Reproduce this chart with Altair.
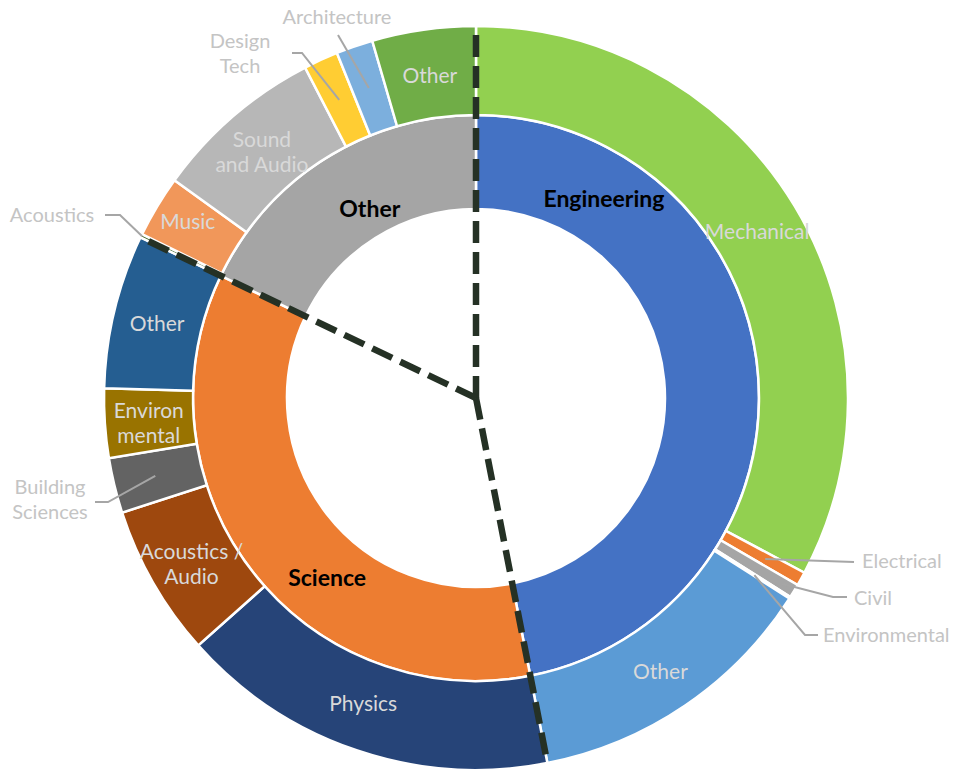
import math
import altair as alt
import pandas as pd

# ---------------- data ----------------
GROUPS = ["Engineering", "Science", "Other"]
GROUP_COLORS = ["#4472C4", "#ED7D31", "#A5A5A5"]

SUB_GROUP = ["Engineering"] * 5 + ["Science"] * 5 + ["Other"] * 6
SUB_NAMES = ["Mechanical", "Electrical", "Civil", "Environmental", "Other",
             "Physics", "Acoustics /\nAudio", "Building\nSciences", "Environ\nmental", "Other",
             "Acoustics", "Music", "Sound\nand Audio", "Design\nTech", "Architecture", "Other"]
SUB_VALUES = [32.8, 0.6, 0.6, 0.08, 12.87,
              16.5, 6.6, 2.4, 3.0, 6.7,
              0.15, 2.7, 7.45, 1.5, 1.6, 4.5]
SUB_COLORS = ["#92D050", "#ED7D31", "#A5A5A5", "#FFC000", "#5B9BD5",
              "#264478", "#9E480E", "#636363", "#997300", "#255E91",
              "#43682B", "#F1975A", "#B7B7B7", "#FFCD33", "#7CAFDD", "#70AD47"]

# ---------------- layout / style ----------------
W, H = 952, 740
R_OUT, R_MID, R_IN = 372, 283, 189
R_DASH = 371
FONT = "Lato"
LINE_H = 25
INNER_LABEL_R = 235
OUTER_LABEL_R = 328
OUTER_LABEL_DROP = 4  # px, labels on the outer ring sit slightly lower
# nudges (px, right/down) for labels that were moved by hand
INNER_NUDGE = {"Engineering": (-106, -175), "Science": (37, 37), "Other": (19, 11)}
OUTER_NUDGE = {11: (-7, -10), 5: (-8, -8)}
# external labels: index -> (text position px rel. centre (right, down), align,
#                            anchor radius, leader points after the anchor)
EXTERNAL = {
    1: ((386, 164), "left", 331, [(378, 164)]),
    2: ((378, 201), "left", 358, [(357, 199), (371, 199)]),
    3: ((347, 238), "left", 330, [(329, 237), (342, 237)]),
    7: ((-426, 102), "center", 330, [(-368, 104), (-381, 104)]),
    10: ((-424, -182), "center", 371, [(-356, -183), (-371, -183)]),
    13: ((-236, -344), "center", 328, [(-174, -345), (-184, -345)]),
    14: ((-139, -380), "center", 328, [(-138, -363)]),
}


def polar(deg, r):
    a = math.radians(deg)
    return r * math.sin(a), r * math.cos(a)


def block_shift(label):
    # vertical shift (y-up) so a multi-line label is centred on its anchor
    return (label.count("\n")) * LINE_H / 2


total = sum(SUB_VALUES)
rows, acc = [], 0.0
for i, (g, n, v, c) in enumerate(zip(SUB_GROUP, SUB_NAMES, SUB_VALUES, SUB_COLORS)):
    s = acc / total * 360
    acc += v
    e = acc / total * 360
    rows.append(dict(idx=i, group=g, name=n, value=v, color=c, start=s, end=e, mid=(s + e) / 2))
outer = pd.DataFrame(rows)

grows, acc = [], 0.0
for g, c in zip(GROUPS, GROUP_COLORS):
    v = sum(val for gg, val in zip(SUB_GROUP, SUB_VALUES) if gg == g)
    s = acc / total * 360
    acc += v
    e = acc / total * 360
    grows.append(dict(group=g, value=v, color=c, start=s, end=e, mid=(s + e) / 2))
inner = pd.DataFrame(grows)

theta_scale = alt.Scale(domain=[0, 360], range=[0, 2 * math.pi])
xs = alt.Scale(domain=[-W / 2, W / 2], nice=False, zero=False)
ys = alt.Scale(domain=[-H / 2, H / 2], nice=False, zero=False)
X = lambda f="x": alt.X(f"{f}:Q", scale=xs, axis=None)
Y = lambda f="y": alt.Y(f"{f}:Q", scale=ys, axis=None)

inner_arc = alt.Chart(inner).mark_arc(
    radius=R_MID, radius2=R_IN, stroke="white", strokeWidth=2.5
).encode(
    theta=alt.Theta("start:Q", stack=False, scale=theta_scale),
    theta2="end:Q",
    color=alt.Color("color:N", scale=None),
)
outer_arc = alt.Chart(outer).mark_arc(
    radius=R_OUT, radius2=R_MID, stroke="white", strokeWidth=2.5
).encode(
    theta=alt.Theta("start:Q", stack=False, scale=theta_scale),
    theta2="end:Q",
    color=alt.Color("color:N", scale=None),
)

# dashed separators at group boundaries
dash_rows = []
for s in inner["start"]:
    x2, y2 = polar(s, R_DASH)
    dash_rows.append(dict(x=0.0, y=0.0, x2=x2, y2=y2))
dashes = alt.Chart(pd.DataFrame(dash_rows)).mark_rule(
    color="#253125", strokeWidth=6.5, strokeDash=[22, 9], strokeCap="butt"
).encode(x=X(), y=Y(), x2="x2:Q", y2="y2:Q")

# inner labels
il = []
for _, r in inner.iterrows():
    x, y = polar(r["mid"], INNER_LABEL_R)
    dx, dy = INNER_NUDGE.get(r["group"], (0, 0))
    il.append(dict(x=x + dx, y=y - dy, label=r["group"]))
inner_text = alt.Chart(pd.DataFrame(il)).mark_text(
    font=FONT, fontSize=23, fontWeight="bold", color="#000000"
).encode(x=X(), y=Y(), text="label:N")

# outer labels
ol, ext_left, ext_center, leaders = [], [], [], []
for _, r in outer.iterrows():
    i = int(r["idx"])
    name = r["name"]
    if i in EXTERNAL:
        (tx, ty), align, ar, pts = EXTERNAL[i]
        row = dict(x=tx, y=-ty + block_shift(name), label=name)
        (ext_left if align == "left" else ext_center).append(row)
        ax, ay = polar(r["mid"], ar)
        path = [(ax, ay)] + [(px, -py) for px, py in pts]
        for k, (px, py) in enumerate(path):
            leaders.append(dict(key=i, k=k, x=px, y=py))
    else:
        x, y = polar(r["mid"], OUTER_LABEL_R)
        dx, dy = OUTER_NUDGE.get(i, (0, 0))
        ol.append(dict(x=x + dx, y=y - dy - OUTER_LABEL_DROP + block_shift(name), label=name))

outer_text = alt.Chart(pd.DataFrame(ol)).mark_text(
    font=FONT, fontSize=21, color="#D9D9D9", lineBreak="\n", lineHeight=LINE_H
).encode(x=X(), y=Y(), text="label:N")

lead = alt.Chart(pd.DataFrame(leaders)).mark_line(
    color="#A6A6A6", strokeWidth=2
).encode(x=X(), y=Y(), detail="key:N", order="k:Q")

ext_l = alt.Chart(pd.DataFrame(ext_left)).mark_text(
    font=FONT, fontSize=20, color="#C4C4C4", align="left", lineBreak="\n", lineHeight=LINE_H
).encode(x=X(), y=Y(), text="label:N")
ext_c = alt.Chart(pd.DataFrame(ext_center)).mark_text(
    font=FONT, fontSize=20, color="#C4C4C4", align="center", lineBreak="\n", lineHeight=LINE_H
).encode(x=X(), y=Y(), text="label:N")

chart = alt.layer(
    inner_arc, outer_arc, lead, dashes, inner_text, outer_text, ext_l, ext_c
).properties(
    width=W, height=H,
    padding={"left": 0, "top": 28, "right": 6, "bottom": 1},
    autosize="none",
    background="white",
).configure_view(stroke=None)

chart.save("out.html", embed_options={"renderer": "svg", "actions": False})
